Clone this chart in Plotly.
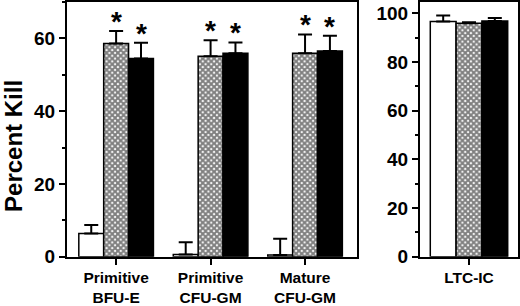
import plotly.graph_objects as go

# ---- data ----
left_categories = ["Primitive<br>BFU-E", "Primitive<br>CFU-GM", "Mature<br>CFU-GM"]
left_open = [6.4, 0.6, 0.5]
left_open_err = [2.3, 3.4, 4.4]
left_hatched = [58.6, 55.1, 55.9]
left_hatched_err = [3.4, 4.4, 5.2]
left_solid = [54.5, 55.9, 56.5]
left_solid_err = [4.3, 3.0, 4.2]
left_sig_hatched = [True, True, True]
left_sig_solid = [True, True, True]

right_categories = ["LTC-IC"]
right_open = [96.7]
right_open_err = [2.5]
right_hatched = [96.0]
right_hatched_err = [0.4]
right_solid = [96.9]
right_solid_err = [1.2]

left_ticks = [0, 20, 40, 60]
right_ticks = [0, 20, 40, 60, 80, 100]

FONT = "Liberation Sans, Arial, Helvetica, sans-serif"
BARGAP = 0.21

fig = go.Figure()

def add_group(cats, vals, errs, xa, ya, style):
    if style == "open":
        marker = dict(color="white", line=dict(color="black", width=1.5))
    elif style == "hatched":
        marker = dict(color="white", line=dict(color="black", width=1.5),
                      pattern=dict(shape="x", size=4, solidity=0.75,
                                   fgcolor="black", bgcolor="white"))
    else:
        marker = dict(color="black", line=dict(color="black", width=1.5))
    fig.add_trace(go.Bar(
        x=cats, y=vals, xaxis=xa, yaxis=ya, marker=marker,
        error_y=dict(type="data", array=errs, arrayminus=[0] * len(errs),
                     symmetric=False, color="black", thickness=2, width=7),
        showlegend=False, hoverinfo="skip",
    ))

add_group(left_categories, left_open, left_open_err, "x", "y", "open")
add_group(left_categories, left_hatched, left_hatched_err, "x", "y", "hatched")
add_group(left_categories, left_solid, left_solid_err, "x", "y", "solid")
add_group(right_categories, right_open, right_open_err, "x2", "y2", "open")
add_group(right_categories, right_hatched, right_hatched_err, "x2", "y2", "hatched")
add_group(right_categories, right_solid, right_solid_err, "x2", "y2", "solid")

# significance asterisks
bw = (1 - BARGAP) / 3
annotations = []
star_font = dict(family=FONT, size=28, color="black", weight="bold")
for i in range(len(left_categories)):
    if left_sig_hatched[i]:
        annotations.append(dict(x=i, y=left_hatched[i] + left_hatched_err[i],
                                xref="x", yref="y", text="*", showarrow=False,
                                yanchor="bottom", yshift=-8, font=star_font))
    if left_sig_solid[i]:
        annotations.append(dict(x=i + bw, y=left_solid[i] + left_solid_err[i],
                                xref="x", yref="y", text="*", showarrow=False,
                                yanchor="bottom", yshift=-8, font=star_font))

annotations.append(dict(x=14 / 520, y=0.523, xref="paper", yref="paper",
                        text="Percent Kill", textangle=-90, showarrow=False,
                        xanchor="center", yanchor="middle",
                        font=dict(family=FONT, size=24, color="black", weight="bold")))

axis_common = dict(showline=True, linecolor="black", linewidth=2, mirror=True,
                   ticks="outside", tickcolor="black", tickwidth=2, ticklen=6,
                   showgrid=False, zeroline=False, automargin=False,
                   tickfont=dict(family=FONT, size=19, color="black", weight="bold"))

xaxis_common = dict(axis_common)
xaxis_common["tickfont"] = dict(family=FONT, size=15.5, color="black", weight="bold")

fig.update_layout(
    width=520, height=306, autosize=False,
    margin=dict(l=0, r=0, t=0, b=0, pad=0),
    paper_bgcolor="white", plot_bgcolor="white",
    barmode="group", bargap=BARGAP, bargroupgap=0,
    xaxis=dict(xaxis_common, domain=[67 / 520, 357 / 520], range=[-0.52, 2.55],
               type="category"),
    yaxis=dict(axis_common, domain=[(306 - 256.7) / 306, (306 - 2) / 306],
               range=[0, 70], tickvals=left_ticks,
               minor=dict(ticks="outside", ticklen=3, tickwidth=1.5, tickcolor="black",
                          dtick=10, showgrid=False)),
    xaxis2=dict(xaxis_common, domain=[420 / 520, 518 / 520], range=[-0.5, 0.5],
                type="category", anchor="y2"),
    yaxis2=dict(axis_common, domain=[(306 - 256.7) / 306, (306 - 2) / 306],
                range=[0, 104.7], tickvals=right_ticks, anchor="x2",
                minor=dict(ticks="outside", ticklen=3, tickwidth=1.5, tickcolor="black",
                           dtick=10, showgrid=False)),
    annotations=annotations,
)

fig.write_html("out.html", config={"displayModeBar": False},
               post_script="document.body.style.margin='0';document.body.style.padding='0';")
